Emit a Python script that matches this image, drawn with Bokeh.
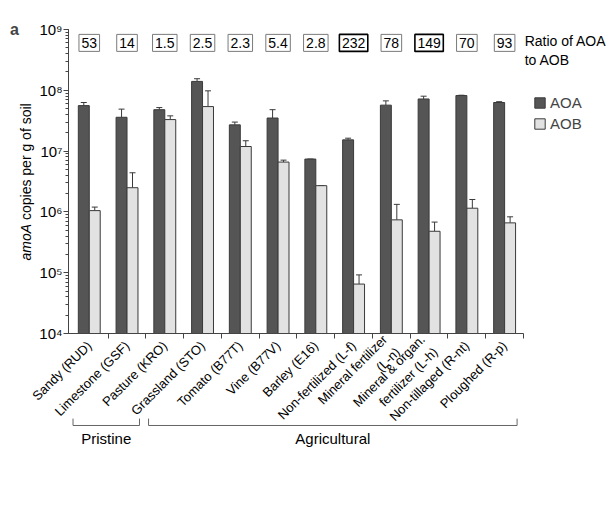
import math
from bokeh.plotting import figure
from bokeh.models import (Range1d, FixedTicker, LogTicker, LogAxis, LinearAxis, Whisker, TeeHead,
                          ColumnDataSource, Legend, LegendItem, Label, Arrow)
from bokeh.core.properties import value
from bokeh.embed import file_html
from bokeh.resources import INLINE

# ---------------- data ----------------
categories = ["Sandy (RUD)", "Limestone (GSF)", "Pasture (KRO)", "Grassland (STO)",
              "Tomato (B77T)", "Vine (B77V)", "Barley (E16)", "Non-fertilized (L-f)",
              "Mineral fertilizer\n(L-n)", "Mineral & organ.\nfertilizer (L-h)",
              "Non-tillaged (R-nt)", "Ploughed (R-p)"]
aoa = [5.6e7, 3.6e7, 4.8e7, 1.4e8, 2.7e7, 3.5e7, 7.4e6, 1.53e7, 5.7e7, 7.2e7, 8.2e7, 6.3e7]
aoa_err = [6.3e7, 4.9e7, 5.2e7, 1.55e8, 3.0e7, 4.8e7, 7.4e6, 1.63e7, 6.7e7, 8.0e7, 8.3e7, 6.5e7]
aob = [1.05e6, 2.5e6, 3.3e7, 5.4e7, 1.19e7, 6.6e6, 2.7e6, 6.5e4, 7.4e5, 4.8e5, 1.15e6, 6.6e5]
aob_err = [1.2e6, 4.4e6, 3.8e7, 9.8e7, 1.48e7, 7.1e6, 2.7e6, 9.2e4, 1.33e6, 6.8e5, 1.6e6, 8.3e5]
ratios = ["53", "14", "1.5", "2.5", "2.3", "5.4", "2.8", "232", "78", "149", "70", "93"]
highlighted = ["232", "149"]
groups = ["Pristine", "Agricultural"]
group_start = [0, 2]
group_end = [2, 12]
y_decades = [4, 5, 6, 7, 8, 9]
series = ["AOA", "AOB"]

FONT = "Liberation Sans"
DARK = "#555555"
LIGHT = "#e2e2e2"
EDGE = "#3a3a3a"
AXC = "#444444"

# ---------------- geometry (frame covers the whole figure) ----------------
W, H = 606, 504
n = len(categories)
px_per_cat = 455 / (n + 0.05)     # plot area 455 px wide (x 68..523)
px_per_dec = 304 / 5              # plot area 304 px tall (y 29..333)
x_lo = -0.05 - 68 / px_per_cat
x_hi = n + (W - 523) / px_per_cat
y_lo = 4 - (H - 333) / px_per_dec
y_hi = 9 + 29 / px_per_dec

p = figure(width=W, height=H, x_range=Range1d(x_lo, x_hi),
           y_range=Range1d(10 ** y_lo, 10 ** y_hi), y_axis_type="log",
           x_axis_location=None, y_axis_location=None,
           output_backend="svg", toolbar_location=None,
           min_border=0, min_border_left=0, min_border_right=0,
           min_border_top=0, min_border_bottom=0)
p.outline_line_color = None
p.background_fill_color = "white"
p.border_fill_color = "white"
for g in p.grid:
    g.visible = False

# ---------------- axes (library axes pinned to the plot corner) ----------------
xa = LinearAxis(fixed_location=1e4, bounds=(-0.05, n))
xa.ticker = FixedTicker(ticks=[i + 0.5 for i in range(n)],
                        minor_ticks=[i + 1 for i in range(n)])
xa.major_label_overrides = {i + 0.5: c for i, c in enumerate(categories)}
xa.major_label_orientation = math.pi / 4
xa.major_label_text_align = "right"
xa.major_tick_line_color = None
xa.minor_tick_in = 0
xa.minor_tick_out = 5
xa.minor_tick_line_color = AXC
xa.axis_line_color = AXC
xa.major_label_text_font = FONT
xa.major_label_text_font_size = "13px"
xa.major_label_text_color = "black"
xa.major_label_standoff = 4
p.add_layout(xa, "below")

sup = str.maketrans("0123456789", "⁰¹²³⁴⁵⁶⁷⁸⁹")
ya = LogAxis(fixed_location=-0.05, bounds=(1e4, 1e9))
ya.ticker = LogTicker(num_minor_ticks=10)
ya.major_label_overrides = {float(10 ** d): "10" + str(d).translate(sup) for d in y_decades}
ya.axis_line_color = AXC
ya.major_tick_line_color = AXC
ya.minor_tick_line_color = AXC
ya.major_tick_in = 0
ya.major_tick_out = 5
ya.minor_tick_in = 0
ya.minor_tick_out = 3
ya.major_label_text_font = FONT
ya.major_label_text_font_size = "15px"
ya.major_label_text_color = "black"
ya.major_label_standoff = 1
p.add_layout(ya, "left")

# ---------------- bars ----------------
bw = 0.29
idx = list(range(n))
src = ColumnDataSource(dict(
    xa=[i + 0.5 - bw / 2 for i in idx], xb=[i + 0.5 + bw / 2 for i in idx],
    aoa=aoa, aoa_err=aoa_err, aob=aob, aob_err=aob_err))
r_aoa = p.vbar(x="xa", top="aoa", bottom=1e4, width=bw, source=src,
               fill_color=DARK, line_color=EDGE, line_width=1)
r_aob = p.vbar(x="xb", top="aob", bottom=1e4, width=bw, source=src,
               fill_color=LIGHT, line_color=EDGE, line_width=1)

for xcol, lo, hi in (("xa", "aoa", "aoa_err"), ("xb", "aob", "aob_err")):
    p.add_layout(Whisker(base=xcol, lower=lo, upper=hi, source=src, dimension="height",
                         line_color=EDGE, line_width=1, lower_head=None,
                         upper_head=TeeHead(size=6, line_color=EDGE, line_width=1)))

# ---------------- ratio boxes ----------------
ry = 10 ** 8.78
def box_w(s):
    return 7.8 * sum(ch.isdigit() for ch in s) + 3.9 * s.count(".") + 5
rsrc = ColumnDataSource(dict(
    x=[i + 0.5 for i in idx], y=[ry] * n, t=ratios,
    w=[box_w(r) for r in ratios],
    lc=["black" if r in highlighted else "#7a7a7a" for r in ratios],
    lw=[1.6 if r in highlighted else 1.0 for r in ratios]))
p.rect(x="x", y="y", width="w", height=17, width_units="screen", height_units="screen",
       fill_color="white", line_color="lc", line_width="lw", source=rsrc)
p.text(x="x", y="y", text="t", source=rsrc, text_align="center", text_baseline="middle",
       text_font=value(FONT), text_font_size="14px", text_color="black")

p.add_layout(Label(x=12.03, y=10 ** 8.655, text="Ratio of AOA\nto AOB",
                   text_font=FONT, text_font_size="14px", text_color="black",
                   text_align="left", text_baseline="middle"))

# ---------------- legend ----------------
legend = Legend(items=[LegendItem(label=series[0], renderers=[r_aoa]),
                       LegendItem(label=series[1], renderers=[r_aob])],
                location=(533, 372), padding=0, margin=0, spacing=4,
                glyph_width=13, glyph_height=13, label_height=13, label_standoff=4,
                label_text_font=FONT, label_text_font_size="15px",
                border_line_color=None, background_fill_alpha=0)
p.add_layout(legend, "center")

# ---------------- y axis title (italic gene name) ----------------
ylab_x = -0.05 - 43 / px_per_cat
ylab_y0 = 5.20
p.add_layout(Label(x=ylab_x, y=10 ** ylab_y0, text="amoA", angle=math.pi / 2,
                   text_font=FONT, text_font_style="italic", text_font_size="14px",
                   text_align="left", text_baseline="middle", text_color="black"))
p.add_layout(Label(x=ylab_x, y=10 ** (ylab_y0 + 40.5 / px_per_dec), text="copies per g of soil",
                   angle=math.pi / 2, text_font=FONT, text_font_size="14px",
                   text_align="left", text_baseline="middle", text_color="black"))

# panel letter
p.add_layout(Label(x=-0.05 - 54 / px_per_cat, y=1e9, text="a", text_font=FONT,
                   text_font_style="bold", text_font_size="16px", text_align="center",
                   text_baseline="middle"))

# ---------------- group brackets ----------------
br_y = 10 ** 2.487
br_top = 10 ** 2.60
for g, s, e in zip(groups, group_start, group_end):
    x0, x1 = s + 0.07, e - 0.17
    for xs, ys, xe, ye in ((x0, br_y, x1, br_y), (x0, br_y, x0, br_top), (x1, br_y, x1, br_top)):
        p.add_layout(Arrow(x_start=xs, y_start=ys, x_end=xe, y_end=ye, start=None, end=None,
                           line_color="#666666", line_width=1))
    p.add_layout(Label(x=(x0 + x1) / 2, y=10 ** 2.27, text=g, text_font=FONT,
                       text_font_size="15px", text_align="center", text_baseline="middle",
                       text_color="black"))

open("out.html", "w").write(file_html(p, INLINE))
